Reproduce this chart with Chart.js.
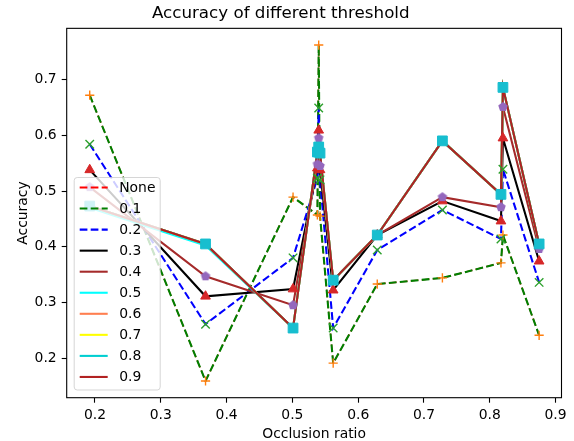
<!DOCTYPE html>
<html><head><meta charset="utf-8">
<script src="https://cdn.jsdelivr.net/npm/chart.js@4/dist/chart.umd.min.js"></script>
<style>html,body{margin:0;padding:0;background:#fff;}canvas{display:block;}</style>
</head><body>
<canvas id="c" width="574" height="441"></canvas>
<script>
// ---- data ----
const occlusion = [0.192, 0.368, 0.501, 0.538, 0.540, 0.542, 0.562, 0.629, 0.728, 0.817, 0.820, 0.875];
const accNone = [0.672, 0.159, 0.489, 0.457, 0.762, 0.455, 0.191, 0.333, 0.344, 0.371, 0.421, 0.241];
const acc01   = [0.672, 0.159, 0.489, 0.457, 0.762, 0.455, 0.191, 0.333, 0.344, 0.371, 0.421, 0.241];
const acc02   = [0.584, 0.261, 0.380, 0.523, 0.649, 0.520, 0.254, 0.394, 0.466, 0.414, 0.539, 0.336];
const acc03   = [0.538, 0.311, 0.324, 0.541, 0.609, 0.538, 0.322, 0.421, 0.482, 0.446, 0.595, 0.374];
const acc04   = [0.507, 0.347, 0.295, 0.548, 0.595, 0.545, 0.340, 0.421, 0.489, 0.471, 0.651, 0.396];
const acc05   = [0.470, 0.402, 0.254, 0.570, 0.579, 0.568, 0.340, 0.421, 0.590, 0.494, 0.686, 0.405];
const acc06   = [0.473, 0.405, 0.254, 0.570, 0.579, 0.568, 0.340, 0.421, 0.590, 0.494, 0.686, 0.405];
const acc07   = [0.473, 0.405, 0.254, 0.570, 0.579, 0.568, 0.340, 0.421, 0.590, 0.494, 0.686, 0.405];
const acc08   = [0.473, 0.405, 0.254, 0.570, 0.579, 0.568, 0.340, 0.421, 0.590, 0.494, 0.686, 0.405];
const acc09   = [0.473, 0.405, 0.254, 0.570, 0.579, 0.568, 0.340, 0.421, 0.590, 0.494, 0.686, 0.405];
const thresholdLabels = ['None', '0.1', '0.2', '0.3', '0.4', '0.5', '0.6', '0.7', '0.8', '0.9'];
const xTicks = [0.2, 0.3, 0.4, 0.5, 0.6, 0.7, 0.8, 0.9];
const yTicks = [0.2, 0.3, 0.4, 0.5, 0.6, 0.7];
const titleText = 'Accuracy of different threshold';
const xTitle = 'Occlusion ratio';
const yTitle = 'Accuracy';

// ---- styles ----
const seriesValues = [accNone, acc01, acc02, acc03, acc04, acc05, acc06, acc07, acc08, acc09];
const lineColors = ['#ff0000', '#008000', '#0000ff', '#000000', '#a52a2a', '#00ffff', '#ff7f50', '#ffff00', '#00ced1', '#b22222'];
const dashed = [true, true, true, false, false, false, false, false, false, false];
const DASH = [7.7, 3.3];
const LW = 2.08;
const FONT = 'DejaVu Sans';

function pentagon(color, R) {
  const s = Math.ceil(2 * R + 2);
  const c = document.createElement('canvas');
  c.width = s; c.height = s;
  const g = c.getContext('2d');
  g.beginPath();
  for (let k = 0; k < 5; k++) {
    const a = -Math.PI / 2 + k * 2 * Math.PI / 5;
    const px = s / 2 + R * Math.cos(a), py = s / 2 + R * Math.sin(a);
    if (k) g.lineTo(px, py); else g.moveTo(px, py);
  }
  g.closePath(); g.fillStyle = color; g.fill();
  return c;
}

const pts = vals => occlusion.map((x, i) => ({x: x, y: vals[i]}));

const datasets = [];
seriesValues.forEach((vals, i) => {
  datasets.push({
    label: thresholdLabels[i], data: pts(vals), showLine: true,
    borderColor: lineColors[i], backgroundColor: lineColors[i],
    borderWidth: i === 0 ? 1.4 : LW,
    borderDash: dashed[i] ? DASH : [], pointRadius: 0, tension: 0, fill: false
  });
});
const markerDefs = [
  {vals: acc01, style: 'cross', color: '#ff7f0e', r: 4.6, bw: 1.4},
  {vals: acc02, style: 'crossRot', color: '#2ca02c', r: 6.0, bw: 1.4},
  {vals: acc03, style: 'triangle', color: '#d62728', r: 5.6, bw: 1},
  {vals: acc04, style: pentagon('#9467bd', 5.0), color: '#9467bd', r: 5, bw: 0},
  {vals: acc09, style: 'rect', color: '#17becf', r: 6.9, bw: 1}
];
markerDefs.forEach(m => {
  datasets.push({
    label: '_m', data: pts(m.vals), showLine: false,
    pointStyle: m.style, pointRadius: m.r, pointBorderWidth: m.bw,
    pointBorderColor: m.color, pointBackgroundColor: m.color,
    borderColor: m.color, backgroundColor: m.color
  });
});
datasets.forEach((d, i) => { d.order = -i; });

const boxPlugin = {
  id: 'box',
  afterDatasetsDraw(chart) {
    const {ctx, chartArea: a} = chart;
    ctx.save();
    ctx.strokeStyle = '#000'; ctx.lineWidth = 1.1;
    ctx.strokeRect(a.left, a.top, a.right - a.left, a.bottom - a.top);
    ctx.restore();
  }
};
const legendPlugin = {
  id: 'mplLegend',
  afterDraw(chart) {
    const {ctx, chartArea: a} = chart;
    ctx.save();
    const bx = a.left + 7.5, by = 177.5, bw = 86, bh = 212.5;
    ctx.beginPath();
    ctx.roundRect(bx, by, bw, bh, 3);
    ctx.fillStyle = 'rgba(255,255,255,0.8)'; ctx.fill();
    ctx.strokeStyle = 'rgba(204,204,204,0.8)'; ctx.lineWidth = 1; ctx.stroke();
    ctx.font = '13.9px "' + FONT + '"';
    ctx.textBaseline = 'middle'; ctx.textAlign = 'left';
    thresholdLabels.forEach((lab, i) => {
      const y = by + 10 + i * 21.05;
      ctx.beginPath();
      ctx.setLineDash(dashed[i] ? DASH : []);
      ctx.strokeStyle = lineColors[i]; ctx.lineWidth = LW;
      ctx.moveTo(bx + 5.5, y); ctx.lineTo(bx + 33.5, y); ctx.stroke();
      ctx.setLineDash([]);
      ctx.fillStyle = '#000';
      ctx.fillText(lab, bx + 45, y + 0.5);
    });
    ctx.restore();
  }
};

new Chart(document.getElementById('c'), {
  type: 'scatter',
  data: {datasets},
  options: {
    responsive: false, animation: false, devicePixelRatio: 1, events: [],
    layout: {padding: {left: 0, right: 12.5, top: 0, bottom: 0}},
    plugins: {
      legend: {display: false}, tooltip: {enabled: false},
      title: {display: true, text: titleText, color: '#000',
        font: {family: FONT, size: 16.7, weight: 'normal', lineHeight: 1.2},
        padding: {top: 4, bottom: 4.3}}
    },
    scales: {
      x: {
        type: 'linear', min: 0.157, max: 0.909,
        afterBuildTicks: s => { s.ticks = xTicks.map(v => ({value: v})); },
        afterFit: s => { s.height = 43.3; },
        ticks: {color: '#000', font: {family: FONT, size: 13.9}, padding: 4, maxRotation: 0, autoSkip: false,
          callback: v => Number(v).toFixed(1)},
        grid: {display: true, drawOnChartArea: false, drawTicks: true, tickLength: 5, tickColor: '#000', tickWidth: 1.1},
        border: {display: false},
        title: {display: true, text: xTitle, color: '#000', font: {family: FONT, size: 13.9, lineHeight: 1}, padding: 0}
      },
      y: {
        type: 'linear', min: 0.129, max: 0.792,
        afterBuildTicks: s => { s.ticks = yTicks.map(v => ({value: v})); },
        afterFit: s => { s.width = 66.7; },
        ticks: {color: '#000', font: {family: FONT, size: 13.9}, padding: 5, autoSkip: false,
          callback: v => Number(v).toFixed(1)},
        grid: {display: true, drawOnChartArea: false, drawTicks: true, tickLength: 5, tickColor: '#000', tickWidth: 1.1},
        border: {display: false},
        title: {display: true, text: yTitle, color: '#000', font: {family: FONT, size: 13.9, lineHeight: 1}, padding: {top: 16, bottom: 0}}
      }
    }
  },
  plugins: [boxPlugin, legendPlugin]
});
</script>
</body></html>
